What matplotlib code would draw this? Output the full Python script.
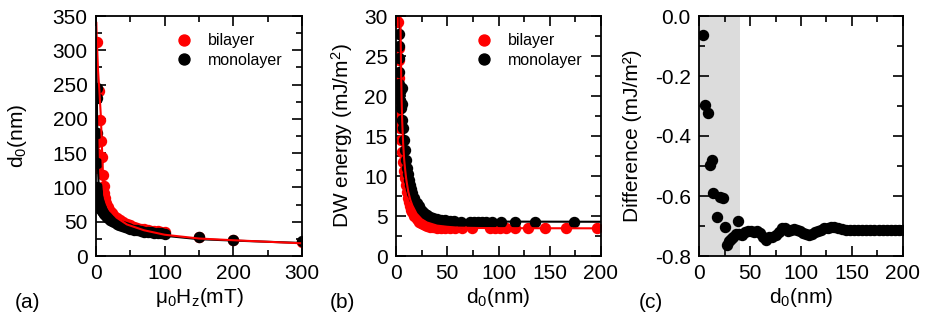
import matplotlib
matplotlib.use("Agg")
import matplotlib.pyplot as plt
from matplotlib.ticker import MultipleLocator, FormatStrFormatter

plt.rcParams['font.family'] = ['Liberation Sans', 'DejaVu Sans']
plt.rcParams['mathtext.fontset'] = 'custom'
plt.rcParams['mathtext.rm'] = 'Liberation Sans'
plt.rcParams['mathtext.it'] = 'Liberation Sans'
plt.rcParams['mathtext.default'] = 'regular'
plt.rcParams['axes.unicode_minus'] = False

# (a) domain width vs field
bi_h = [0.3, 0.3, 0.3, 2, 5, 6, 8, 9, 10, 11, 12, 13, 15, 17, 20, 23, 26, 30, 35, 40,
        45, 50, 55, 60, 65, 70, 75, 80, 85, 90, 95, 100, 150, 200, 300]
bi_d = [165, 150, 128, 312, 240, 198, 168, 145, 118, 102, 92, 84, 77, 72, 66, 62, 59, 56, 52, 49,
        46.5, 44.5, 43, 41.5, 40, 39, 38, 37, 36.5, 36, 35.5, 35, 27, 24, 20]
mono_h = [1, 1, 1, 1, 1, 1, 1.5, 1.5, 2, 2, 3, 3, 4, 4, 5, 6, 7, 8, 9, 10, 12, 14, 16, 18, 20, 23, 26,
          30, 34, 38, 42, 46, 50, 55, 60, 65, 70, 75, 80, 85, 90, 95, 100, 150, 200, 300]
mono_d = [245, 230, 180, 135, 100, 85, 95, 80, 90, 76, 85, 73, 80, 70, 77, 74, 71, 68, 66, 64, 61, 59, 57, 55, 53, 51, 49,
          47, 45.5, 44, 42.5, 41, 40, 38.5, 37.5, 36.5, 35.5, 35, 34.5, 34, 33.5, 33, 32.5, 27.5, 24, 21.5]
bi_fit_h = [0.5, 1, 2, 3, 5, 7, 9, 11, 13, 16, 20, 30, 45, 70, 100, 150, 200, 300]
bi_fit_d = [340, 320, 295, 270, 240, 205, 150, 100, 84, 75, 67, 56, 46, 37.5, 31, 25.5, 23, 18.5]
mono_fit_h = [0.8, 1, 2, 3, 4, 6, 8, 10, 15, 20, 30, 45, 70, 100, 150, 200, 300]
mono_fit_d = [300, 250, 170, 125, 100, 82, 74, 68, 60, 55, 48, 41, 34, 29.5, 24.5, 22.5, 19]

# (b) DW energy vs d0
bi_d0 = [2.3, 2.5, 2.5, 2.5, 1.5, 1.5, 1.5, 1.5, 3.5, 4.5, 5.5, 6.5, 7.5, 8.5, 9.5, 11, 12, 13, 14,
         15, 16, 18, 20, 22, 24, 26, 28, 30, 33, 36, 40, 44, 48, 53, 58, 64, 74, 92, 97, 101,
         107, 116, 129, 145, 166, 196]
bi_e = [29.2, 26.0, 24.5, 22.3, 20.5, 19.5, 18.3, 17.0, 16.0, 14.5, 13.0, 11.8, 10.6, 9.7, 8.9, 8.0, 7.3, 6.7, 6.2,
        5.8, 5.5, 5.0, 4.6, 4.3, 4.1, 3.95, 3.85, 3.75, 3.65, 3.6, 3.55, 3.5, 3.5, 3.48, 3.47, 3.46, 3.46, 3.46, 3.46, 3.46,
        3.46, 3.46, 3.46, 3.46, 3.46, 3.46]
mono_d0 = [2.5, 2.5, 2.5, 2.5, 3, 3.5, 4, 5, 6, 6, 6, 7, 8, 9, 10, 11, 12, 13, 14, 15, 16, 18, 20,
           22, 24, 26, 28, 30, 33, 36, 40, 44, 48, 53, 57, 63, 72, 76, 80, 84, 88, 94, 102, 116, 136, 174]
mono_e = [27.8, 26.3, 24.8, 23.0, 21.5, 20.5, 19.5, 18.5, 21, 19, 17, 16, 14.5, 13.2, 12, 11, 10.2, 9.5, 8.9, 8.4, 7.9, 7.2, 6.6,
          6.2, 5.8, 5.5, 5.3, 5.1, 4.9, 4.75, 4.6, 4.5, 4.45, 4.4, 4.35, 4.3, 4.3, 4.3, 4.3, 4.3, 4.3, 4.3, 4.3, 4.3, 4.3, 4.3]
bi_fit_x = [4.3, 4.6, 5, 5.5, 6, 7, 8, 9, 10, 12, 14, 16, 20, 25, 30, 40, 50, 60, 80, 100, 200]
bi_fit_e = [30, 27, 23, 19.5, 17, 14, 12, 10.7, 9.6, 8.0, 7.0, 6.3, 5.3, 4.6, 4.2, 3.8, 3.65, 3.55, 3.5, 3.48, 3.46]
mono_fit_x = [3.6, 4, 5, 6, 7, 8, 10, 12, 14, 17, 20, 25, 30, 40, 50, 60, 80, 100, 200]
mono_fit_e = [30, 26, 21, 18, 16, 14.5, 12.2, 10.5, 9.3, 8, 7, 6, 5.4, 4.85, 4.6, 4.45, 4.35, 4.3, 4.28]

# (c) energy difference
diff_d0 = [3.6, 5.5, 9.3, 10.8, 12.4, 14, 17.3, 20.6, 23.8, 25.5, 27.4, 38.6,
           29, 31, 33, 36, 39, 42, 45, 48, 51, 54, 57, 60, 63, 66, 69, 72, 75, 78, 81, 84, 87,
           90, 93, 96, 99, 102, 105, 108, 111, 114, 117, 120, 123, 126, 129, 132, 136, 140, 144,
           148, 152, 156, 160, 164, 168, 172, 176, 180, 184, 188, 192, 196, 200]
diff_e = [-0.063, -0.298, -0.322, -0.497, -0.48, -0.591, -0.669, -0.602, -0.608, -0.704, -0.763, -0.683,
          -0.75, -0.742, -0.735, -0.728, -0.726, -0.73, -0.72, -0.718, -0.717, -0.72, -0.716, -0.722, -0.738,
          -0.745, -0.738, -0.735, -0.73, -0.72, -0.705, -0.708, -0.716, -0.714, -0.71, -0.712, -0.716,
          -0.722, -0.728, -0.73, -0.725, -0.72, -0.716, -0.712, -0.708, -0.705, -0.703, -0.704, -0.708,
          -0.711, -0.713, -0.714, -0.714, -0.714, -0.714, -0.713, -0.713, -0.713, -0.712, -0.712,
          -0.712, -0.712, -0.712, -0.712, -0.712]

RED = '#ff0000'
ms = 7.2
fs = 15

fig = plt.figure(figsize=(9.26, 3.29), dpi=100)
ax1 = fig.add_axes([96/926, 73/329, 206/926, 240/329])
ax2 = fig.add_axes([396/926, 73/329, 205/926, 240/329])
ax3 = fig.add_axes([699/926, 73/329, 204/926, 240/329])


def style(ax):
    for s in ax.spines.values():
        s.set_linewidth(1.3)
    ax.tick_params(which='both', direction='in', top=True, right=True, width=1.2, labelsize=fs)
    ax.tick_params(which='major', length=7.5, pad=6)
    ax.tick_params(which='minor', length=4.3)


leg_kw = dict(loc='upper left', bbox_to_anchor=(0.365, 0.955), frameon=False, fontsize=11.5,
              handletextpad=1.1, labelspacing=0.3, handlelength=0.8, borderaxespad=0, markerscale=1.1)

# panel a
ax1.plot(bi_h, bi_d, 'o', color=RED, ms=ms, label='bilayer')
ax1.plot(mono_h, mono_d, 'o', color='black', ms=ms, label='monolayer')
ax1.plot(mono_fit_h, mono_fit_d, '-', color='black', lw=1.5)
ax1.plot(bi_fit_h, bi_fit_d, '-', color=RED, lw=1.5)
ax1.set_xlim(0, 300)
ax1.set_ylim(0, 350)
ax1.xaxis.set_major_locator(MultipleLocator(100))
ax1.xaxis.set_minor_locator(MultipleLocator(50))
ax1.yaxis.set_major_locator(MultipleLocator(50))
ax1.yaxis.set_minor_locator(MultipleLocator(25))
ax1.set_xlabel('$\\mu_0$H$_z$(mT)', fontsize=fs, labelpad=2)
ax1.set_ylabel('d$_0$(nm)', fontsize=fs, labelpad=17)
style(ax1)
ax1.legend(**leg_kw)

# panel b
ax2.plot(bi_d0, bi_e, 'o', color=RED, ms=ms, label='bilayer')
ax2.plot(mono_d0, mono_e, 'o', color='black', ms=ms, label='monolayer')
ax2.plot(mono_fit_x, mono_fit_e, '-', color='black', lw=1.5)
ax2.plot(bi_fit_x, bi_fit_e, '-', color=RED, lw=1.5)
ax2.set_xlim(0, 200)
ax2.set_ylim(0, 30)
ax2.xaxis.set_major_locator(MultipleLocator(50))
ax2.xaxis.set_minor_locator(MultipleLocator(25))
ax2.yaxis.set_major_locator(MultipleLocator(5))
ax2.yaxis.set_minor_locator(MultipleLocator(2.5))
ax2.set_xlabel('d$_0$(nm)', fontsize=fs, labelpad=2)
ax2.set_ylabel('DW energy (mJ/m$^2$)', fontsize=fs, labelpad=7)
style(ax2)
ax2.legend(**leg_kw)

# panel c
ax3.axvspan(0, 40, color='#dcdcdc', lw=0, zorder=0)
ax3.plot(diff_d0, diff_e, 'o', color='black', ms=ms)
ax3.set_xlim(0, 200)
ax3.set_ylim(-0.8, 0.0)
ax3.xaxis.set_major_locator(MultipleLocator(50))
ax3.xaxis.set_minor_locator(MultipleLocator(25))
ax3.yaxis.set_major_locator(MultipleLocator(0.2))
ax3.yaxis.set_minor_locator(MultipleLocator(0.1))
ax3.yaxis.set_major_formatter(FormatStrFormatter('%.1f'))
ax3.set_xlabel('d$_0$(nm)', fontsize=fs, labelpad=2)
ax3.set_ylabel('Difference (mJ/m²)', fontsize=fs, labelpad=9)
style(ax3)

fig.text(15/926, 1 - 303/329, '(a)', fontsize=fs, va='center')
fig.text(330/926, 1 - 303/329, '(b)', fontsize=fs, va='center')
fig.text(639/926, 1 - 303/329, '(c)', fontsize=fs, va='center')

fig.savefig('out.png', dpi=100)
